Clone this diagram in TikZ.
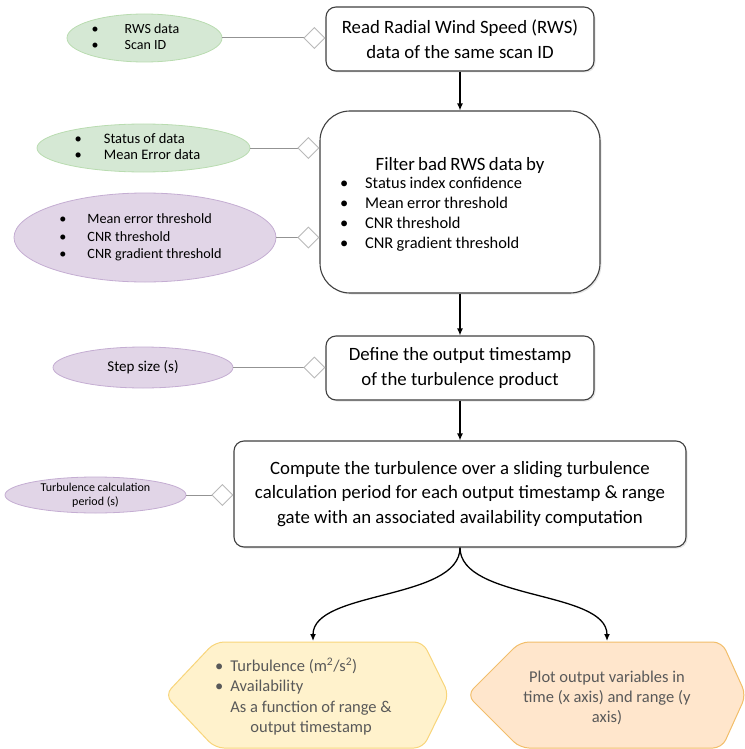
\documentclass[tikz,border=0pt]{standalone}
\usepackage{fontspec}
\setmainfont{Carlito}
\usetikzlibrary{shapes.geometric,arrows.meta,shadows}
\definecolor{boxline}{HTML}{404040}
\definecolor{greenfill}{HTML}{D5E8D4}
\definecolor{greenline}{HTML}{B9DCB0}
\definecolor{purplefill}{HTML}{E1D5E7}
\definecolor{purpleline}{HTML}{C4ADD2}
\definecolor{yellowfill}{HTML}{FFF2CC}
\definecolor{yellowline}{HTML}{F8D57A}
\definecolor{orangefill}{HTML}{FFE6CC}
\definecolor{orangeline}{HTML}{F2BE6A}
\definecolor{outtext}{HTML}{595959}

\begin{document}
\begin{tikzpicture}[x=1pt, y=-1pt,
  procbox/.style={rectangle, draw=boxline, line width=1.1pt, rounded corners=10pt, fill=white, align=center, inner sep=0pt,
    font=\fontsize{18.8}{24.5}\selectfont, drop shadow={shadow xshift=1.5pt, shadow yshift=-1.5pt, opacity=0.2}},
  greenin/.style={ellipse, draw=greenline, line width=0.8pt, fill=greenfill, inner sep=0pt, align=center},
  purplein/.style={ellipse, draw=purpleline, line width=0.8pt, fill=purplefill, inner sep=0pt, align=center},
  link/.style={draw=gray!85, line width=1pt, -{Diamond[length=22pt, width=22pt, fill=white, color=gray!55, line width=0.9pt]}},
  flow/.style={draw=black, line width=1.3pt, -{Latex[length=7pt, width=6pt]}}]
  \useasboundingbox (0,0) rectangle (744,749);

  % main steps
  \node[procbox, minimum width=268pt, minimum height=64pt] (read) at (460,39) {Read Radial Wind Speed (RWS)\\data of the same scan ID};
  \node[procbox, rounded corners=30pt, minimum width=280pt, minimum height=182pt] (filter) at (460,202) {};
  \node[text width=240pt, align=left, inner sep=0pt] (filtertxt) at (460,206)
    {\makebox[240pt][c]{\fontsize{18.8}{20}\selectfont Filter bad RWS data by}\\[0pt]
     {\fontsize{16.4}{20}\selectfont\begin{tabular}{@{}l@{\hspace{17pt}}l@{}}
       \textbullet & Status index confidence\\
       \textbullet & Mean error threshold\\
       \textbullet & CNR threshold\\
       \textbullet & CNR gradient threshold
     \end{tabular}}};
  \node[procbox, minimum width=268pt, minimum height=64pt] (define) at (460,368) {Define the output timestamp\\of the turbulence product};
  \node[procbox, minimum width=452pt, minimum height=106pt] (compute) at (460,494)
    {Compute the turbulence over a sliding turbulence\\calculation period for each output timestamp \& range\\gate with an associated availability computation};

  % inputs
  \node[greenin, minimum width=155pt, minimum height=48pt] (in1) at (144.5,38)
    {\fontsize{14}{16}\selectfont\begin{tabular}{@{}l@{\hspace{26pt}}l@{}}\textbullet & RWS data\\ \textbullet & Scan ID\end{tabular}\hspace*{18pt}};
  \node[greenin, minimum width=213pt, minimum height=48pt] (in2) at (143.5,148)
    {\fontsize{14.5}{16.5}\selectfont\begin{tabular}{@{}l@{\hspace{22pt}}l@{}}\textbullet & Status of data\\ \textbullet & Mean Error data\end{tabular}\hspace*{12pt}};
  \node[purplein, minimum width=262pt, minimum height=89pt] (in3) at (145,237.5)
    {\fontsize{14.2}{17.5}\selectfont\begin{tabular}{@{}l@{\hspace{21pt}}l@{}}\textbullet & Mean error threshold\\ \textbullet & CNR threshold\\ \textbullet & CNR gradient threshold\end{tabular}\hspace*{9pt}};
  \node[purplein, minimum width=180pt, minimum height=41pt, font=\fontsize{15}{16}\selectfont] (in4) at (143,367.5) {Step size (s)};
  \node[purplein, minimum width=181pt, minimum height=36pt, font=\fontsize{12}{14}\selectfont] (in5) at (95.5,495) {Turbulence calculation\\period (s)};

  \draw[link] (in1.east) -- (in1.east -| read.west);
  \draw[link] (in2.east) -- (in2.east -| filter.west);
  \draw[link] (in3.east) -- (in3.east -| filter.west);
  \draw[link] (in4.east) -- (in4.east -| define.west);
  \draw[link] (in5.east) -- (in5.east -| compute.west);

  % outputs
  \draw[draw=yellowline, line width=1pt, fill=yellowfill, rounded corners=9pt]
    (165,695) -- (215,642) -- (423,642) -- (449,695) -- (423,748) -- (215,748) -- cycle;
  \draw[draw=orangeline, line width=1pt, fill=orangefill, rounded corners=9pt]
    (467,695) -- (520,642) -- (722,642) -- (746,695) -- (722,748) -- (520,748) -- cycle;
  \node[anchor=west, inner sep=0pt, text=outtext, font=\fontsize{16.5}{20.5}\selectfont] (out1) at (215,698)
    {\begin{tabular}{@{}l@{\hspace{7pt}}l@{}}
       \textbullet & Turbulence (m\textsuperscript{2}/s\textsuperscript{2})\\
       \textbullet & Availability\\
        & As a function of range \&\\
        & \hspace*{20pt}output timestamp
     \end{tabular}};
  \node[align=center, inner sep=0pt, text=outtext, font=\fontsize{16.5}{20}\selectfont] (out2) at (607,698)
    {Plot output variables in\\time (x axis) and range (y\\axis)};
  \coordinate (out1top) at (313,641);
  \coordinate (out2top) at (607,641);

  \draw[flow] (read) -- (filter);
  \draw[flow] (filter) -- (define);
  \draw[flow] (define) -- (compute);
  \draw[flow] (compute.south) .. controls +(0,53) and +(0,-51) .. (out1top);
  \draw[flow] (compute.south) .. controls +(0,53) and +(0,-51) .. (out2top);
\end{tikzpicture}
\end{document}
